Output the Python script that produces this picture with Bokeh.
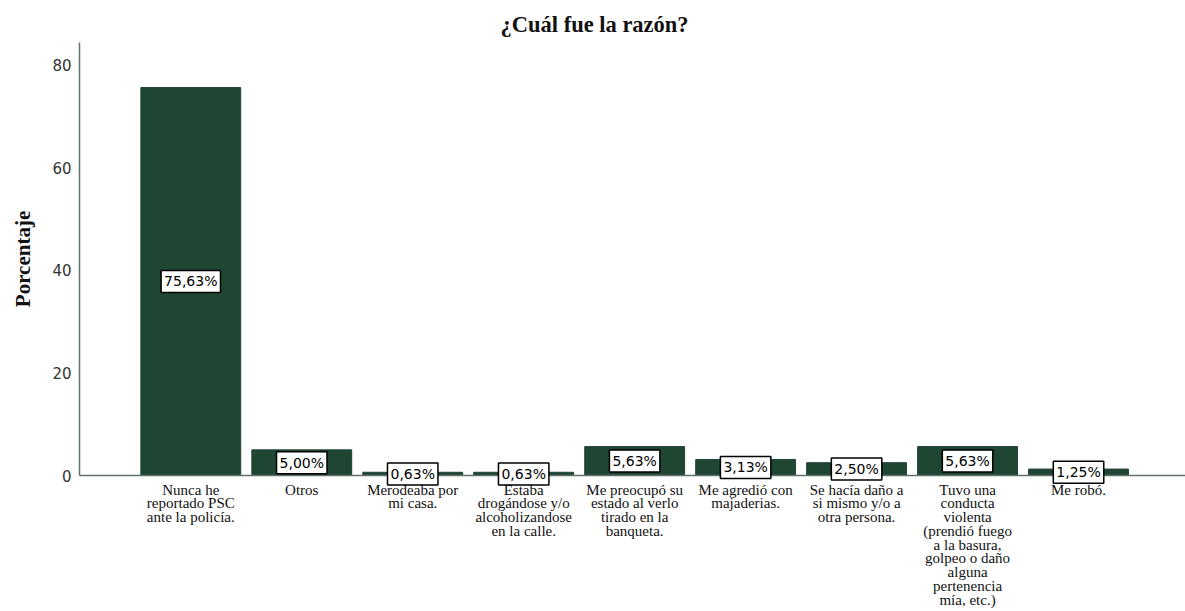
from bokeh.plotting import figure
from bokeh.models import ColumnDataSource, Range1d, FixedTicker
from bokeh.core.properties import value
from bokeh.embed import file_html
from bokeh.resources import INLINE

title_text = "¿Cuál fue la razón?"
y_label = "Porcentaje"
categories = [
    "Nunca he\nreportado PSC\nante la policía.",
    "Otros",
    "Merodeaba por\nmi casa.",
    "Estaba\ndrogándose y/o\nalcoholizandose\nen la calle.",
    "Me preocupó su\nestado al verlo\ntirado en la\nbanqueta.",
    "Me agredió con\nmajaderias.",
    "Se hacía daño a\nsi mismo y/o a\notra persona.",
    "Tuvo una\nconducta\nviolenta\n(prendió fuego\na la basura,\ngolpeo o daño\nalguna\npertenencia\nmía, etc.)",
    "Me robó.",
]
values = [75.63, 5.00, 0.63, 0.63, 5.63, 3.13, 2.50, 5.63, 1.25]
y_ticks = [0, 20, 40, 60, 80]

xs = list(range(len(categories)))
src = ColumnDataSource(dict(
    x=xs,
    top=values,
    mid=[v / 2 for v in values],
    lab=[f"{v:.2f}".replace(".", ",") + "%" for v in values],
))

p = figure(width=1185, height=611, output_backend="svg", toolbar_location=None,
           x_range=Range1d(-1.003, 8.964), y_range=Range1d(0, 84.4),
           min_border_left=79, min_border_right=0, min_border_top=42,
           min_border_bottom=136)
p.outline_line_color = None
p.grid.visible = False
p.background_fill_color = "white"

p.title.text = title_text
p.title.align = "left"
p.title.offset = 421
p.title.text_font = "Liberation Serif"
p.title.text_font_style = "bold"
p.title.text_font_size = "22.5px"
p.title.text_color = "#111111"
p.title.standoff = 12

p.vbar(x="x", top="top", width=0.9, source=src, fill_color="#1f4533",
       line_color="#1f4533")

txt = p.text(x="x", y="mid", text="lab", source=src,
             text_align="center", text_baseline="middle",
             text_font=value("DejaVu Sans"), text_font_size="14px",
             text_color="black",
             background_fill_color="white",
             border_line_color="black", border_line_width=1.5,
             padding=3)
txt.level = "overlay"

xa = p.xaxis[0]
xa.ticker = FixedTicker(ticks=xs)
xa.major_label_overrides = {i: c for i, c in enumerate(categories)}
xa.major_tick_line_color = None
xa.major_tick_out = 0
xa.major_tick_in = 0
xa.minor_tick_line_color = None
xa.axis_line_color = "#60716b"
xa.axis_line_width = 1.5
xa.major_label_text_font = "Liberation Serif"
xa.major_label_text_font_size = "15px"
xa.major_label_text_line_height = 0.86
xa.major_label_text_color = "#111111"
xa.major_label_standoff = 6

ya = p.yaxis[0]
ya.ticker = FixedTicker(ticks=y_ticks)
ya.major_tick_line_color = None
ya.major_tick_out = 0
ya.major_tick_in = 0
ya.minor_tick_line_color = None
ya.axis_line_color = "#60716b"
ya.axis_line_width = 1.5
ya.major_label_text_font = "DejaVu Sans"
ya.major_label_text_font_size = "15px"
ya.major_label_text_color = "#333333"
ya.major_label_standoff = 8
ya.axis_label = y_label
ya.axis_label_text_font = "Liberation Serif"
ya.axis_label_text_font_style = "bold"
ya.axis_label_text_font_size = "21px"
ya.axis_label_text_color = "#111111"
ya.axis_label_standoff = 14

open("out.html", "w").write(file_html(p, INLINE))
